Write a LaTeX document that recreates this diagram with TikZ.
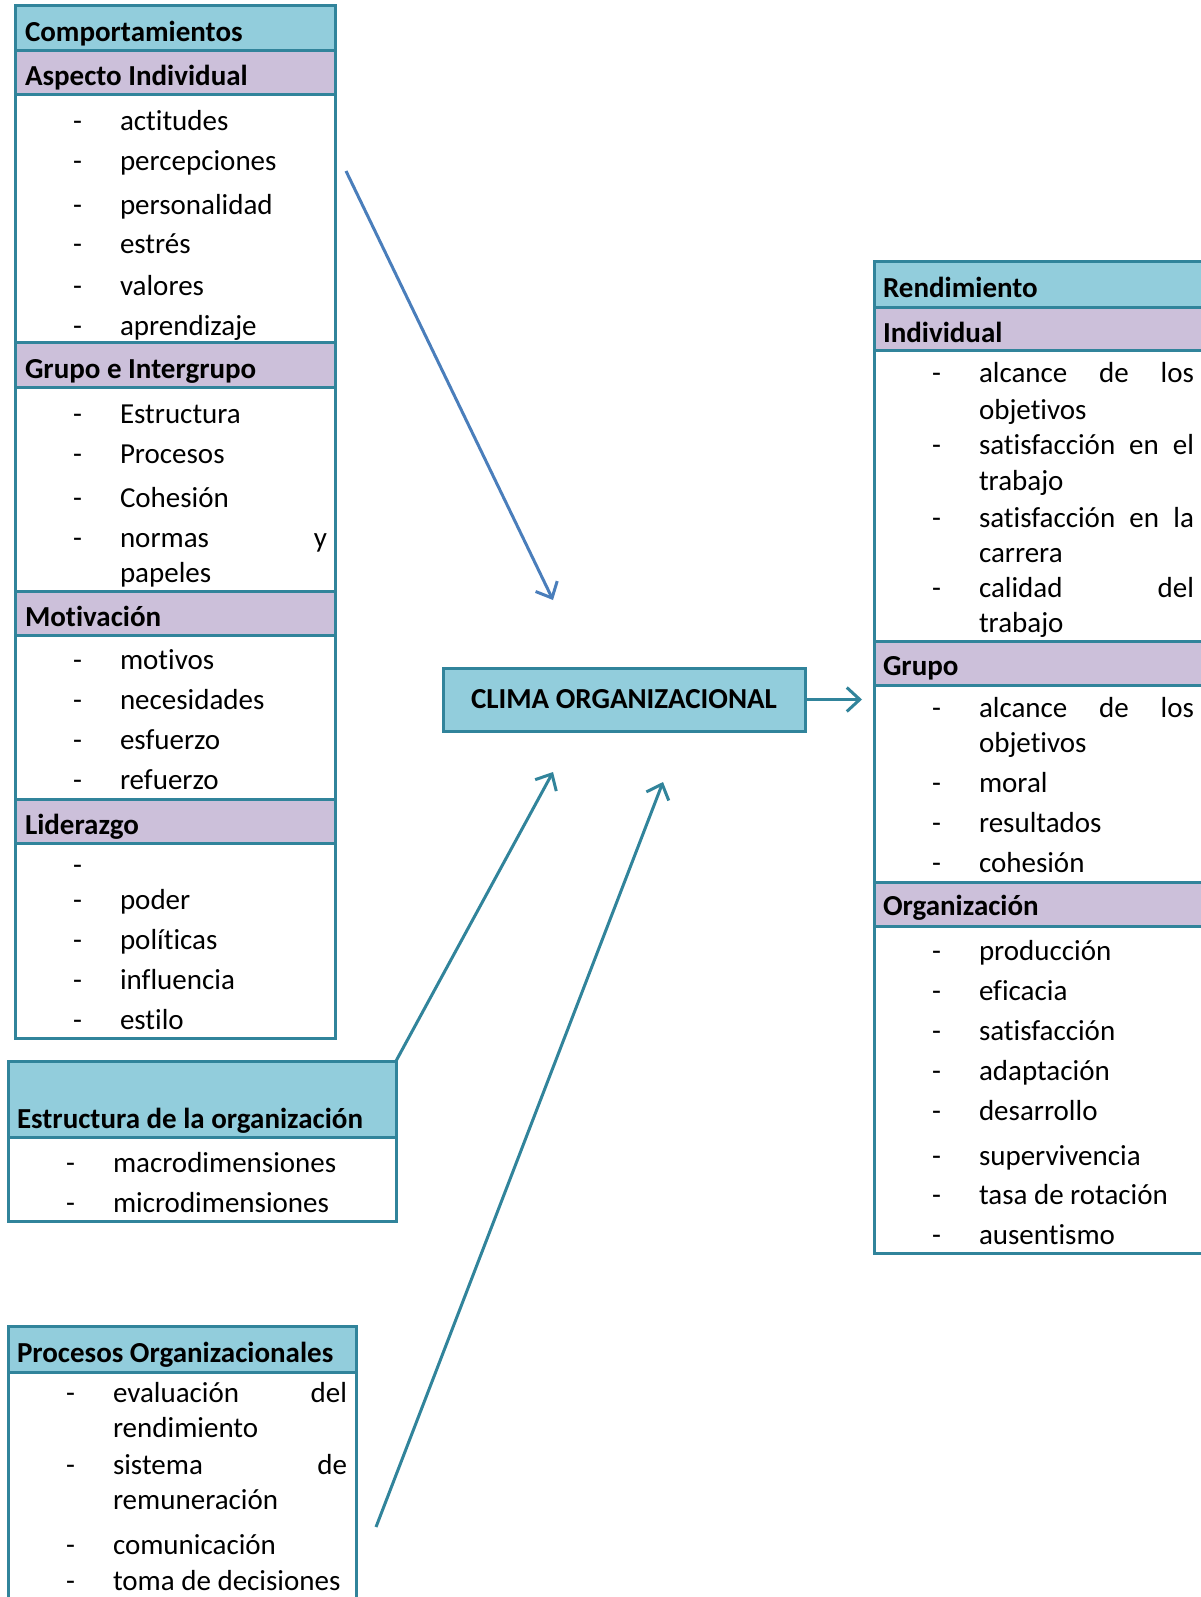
\documentclass[tikz,border=0pt]{standalone}
\usepackage{fontspec}
\setmainfont{Carlito}[Ligatures=NoCommon]
\usetikzlibrary{arrows.meta}
\definecolor{rim}{HTML}{31849B}
\definecolor{aqua}{HTML}{92CDDC}
\definecolor{lilac}{HTML}{CCC0DA}
\definecolor{bluearrow}{HTML}{4A7EBB}

% one bullet line: name, dash x, text x, baseline y, text
\newcommand\entry[5]{%
  \node[txt] (#1d) at (#2,#4) {-};
  \node[txt] (#1) at (#3,#4) {#5};}
% continuation line without a dash
\newcommand\cont[4]{\node[txt] (#1) at (#2,#3) {#4};}

\begin{document}
\begin{tikzpicture}[x=1pt,y=-1pt,
  every node/.style={inner sep=0pt, outer sep=0pt},
  txt/.style={anchor=base west, yshift=-2pt, font=\fontsize{29}{34}\selectfont},
  head/.style={anchor=base west, yshift=-2pt, font=\fontsize{29}{34}\selectfont\bfseries},
  band/.style={draw=rim, line width=3pt},
  panel/.style={draw=rim, line width=3pt, anchor=north west},
  link/.style={line width=3pt, draw=rim, -{Straight Barb[length=13pt,width=24pt]}},
]
\useasboundingbox (0,0) rectangle (1200,1597);
\fill[white] (0,0) rectangle (1200,1597);

% ---------------- Comportamientos ----------------
\filldraw[band, fill=aqua]  (15,6)   rectangle (335,51);
\filldraw[band, fill=lilac] (15,51)  rectangle (335,95);
\filldraw[band, fill=lilac] (15,342) rectangle (335,387);
\filldraw[band, fill=lilac] (15,591) rectangle (335,635);
\filldraw[band, fill=lilac] (15,799) rectangle (335,843);
\node[panel, minimum width=320pt, minimum height=1032pt] (comp) at (15,6) {};

\node[head] (compT) at (25,40) {Comportamientos};
\node[head] (indT) at (25,84) {Aspecto Individual};
\entry{i1}{73}{120}{129}{actitudes}
\entry{i2}{73}{120}{169}{percepciones}
\entry{i3}{73}{120}{213}{personalidad}
\entry{i4}{73}{120}{252}{estrés}
\entry{i5}{73}{120}{293}{valores}
\entry{i6}{73}{120}{333}{aprendizaje}

\node[head] (grT) at (25,376) {Grupo e Intergrupo};
\entry{g1}{73}{120}{421}{Estructura}
\entry{g2}{73}{120}{461}{Procesos}
\entry{g3}{73}{120}{505}{Cohesión}
\entry{g4}{73}{120}{545}{\makebox[207pt][l]{normas\hfill y}}
\cont{g5}{120}{580}{papeles}

\node[head] (motT) at (25,624) {Motivación};
\entry{m1}{73}{120}{667}{motivos}
\entry{m2}{73}{120}{707}{necesidades}
\entry{m3}{73}{120}{747}{esfuerzo}
\entry{m4}{73}{120}{787}{refuerzo}

\node[head] (lidT) at (25,832) {Liderazgo};
\node[txt] (l0d) at (73,872) {-};
\entry{l1}{73}{120}{907}{poder}
\entry{l2}{73}{120}{947}{políticas}
\entry{l3}{73}{120}{987}{influencia}
\entry{l4}{73}{120}{1027}{estilo}

% ---------------- Estructura de la organización ----------------
\filldraw[band, fill=aqua] (8,1061) rectangle (396,1137);
\node[panel, minimum width=388pt, minimum height=160pt] (estr) at (8,1061) {};
\node[head] (estrT) at (17,1126) {Estructura de la organización};
\entry{e1}{66}{113}{1170}{macrodimensiones}
\entry{e2}{66}{113}{1210}{microdimensiones}

% ---------------- Procesos Organizacionales ----------------
\filldraw[band, fill=aqua] (8,1326) rectangle (356,1372);
\node[panel, minimum width=348pt, minimum height=300pt] (proc) at (8,1326) {};
\node[head] (procT) at (17,1360) {Procesos Organizacionales};
\entry{p1}{66}{113}{1400}{\makebox[234pt][l]{evaluación\hfill del}}
\cont{p2}{113}{1435}{rendimiento}
\entry{p3}{66}{113}{1472}{\makebox[234pt][l]{sistema\hfill de}}
\cont{p4}{113}{1507}{remuneración}
\entry{p5}{66}{113}{1552}{comunicación}
\entry{p6}{66}{113}{1588}{toma de decisiones}

% ---------------- Clima organizacional ----------------
\node[draw=rim, line width=3pt, fill=aqua, minimum width=362pt, minimum height=63pt,
      font=\fontsize{29}{34}\selectfont\bfseries] (clima) at (624,699.5) {CLIMA ORGANIZACIONAL};

% ---------------- Rendimiento ----------------
\filldraw[band, fill=aqua]  (874,262) rectangle (1215,307);
\filldraw[band, fill=lilac] (874,307) rectangle (1215,350);
\filldraw[band, fill=lilac] (874,641) rectangle (1215,685);
\filldraw[band, fill=lilac] (874,882) rectangle (1215,926);
\node[panel, minimum width=341pt, minimum height=991pt] (rend) at (874,262) {};

\node[head] (rendT) at (883,295) {Rendimiento};
\node[head] (rindT) at (883,340) {Individual};
\entry{r1}{932}{979}{380}{\makebox[215pt][l]{alcance\hfill de\hfill los}}
\cont{r2}{979}{417}{objetivos}
\entry{r3}{932}{979}{452}{\makebox[215pt][l]{satisfacción\hfill en\hfill el}}
\cont{r4}{979}{488}{trabajo}
\entry{r5}{932}{979}{525}{\makebox[215pt][l]{satisfacción\hfill en\hfill la}}
\cont{r6}{979}{560}{carrera}
\entry{r7}{932}{979}{595}{\makebox[215pt][l]{calidad\hfill del}}
\cont{r8}{979}{630}{trabajo}

\node[head] (rgrT) at (883,673) {Grupo};
\entry{s1}{932}{979}{715}{\makebox[215pt][l]{alcance\hfill de\hfill los}}
\cont{s2}{979}{750}{objetivos}
\entry{s3}{932}{979}{790}{moral}
\entry{s4}{932}{979}{830}{resultados}
\entry{s5}{932}{979}{870}{cohesión}

\node[head] (rorT) at (883,913) {Organización};
\entry{o1}{932}{979}{958}{producción}
\entry{o2}{932}{979}{998}{eficacia}
\entry{o3}{932}{979}{1038}{satisfacción}
\entry{o4}{932}{979}{1078}{adaptación}
\entry{o5}{932}{979}{1118}{desarrollo}
\entry{o6}{932}{979}{1163}{supervivencia}
\entry{o7}{932}{979}{1202}{tasa de rotación}
\entry{o8}{932}{979}{1242}{ausentismo}

% ---------------- Connectors ----------------
\coordinate (aIn)  at (346,171);
\coordinate (aInT) at (553,600);
\coordinate (aOut) at (862,700);
\coordinate (aEst) at (553,772);
\coordinate (aPrS) at (376,1527);
\coordinate (aPrT) at (663,782);

\draw[link, draw=bluearrow] (aIn) -- (aInT);
\draw[link] (clima.east) -- (clima.east -| aOut);
\draw[link] (estr.north east) -- (aEst);
\draw[link] (aPrS) -- (aPrT);
\end{tikzpicture}
\end{document}
